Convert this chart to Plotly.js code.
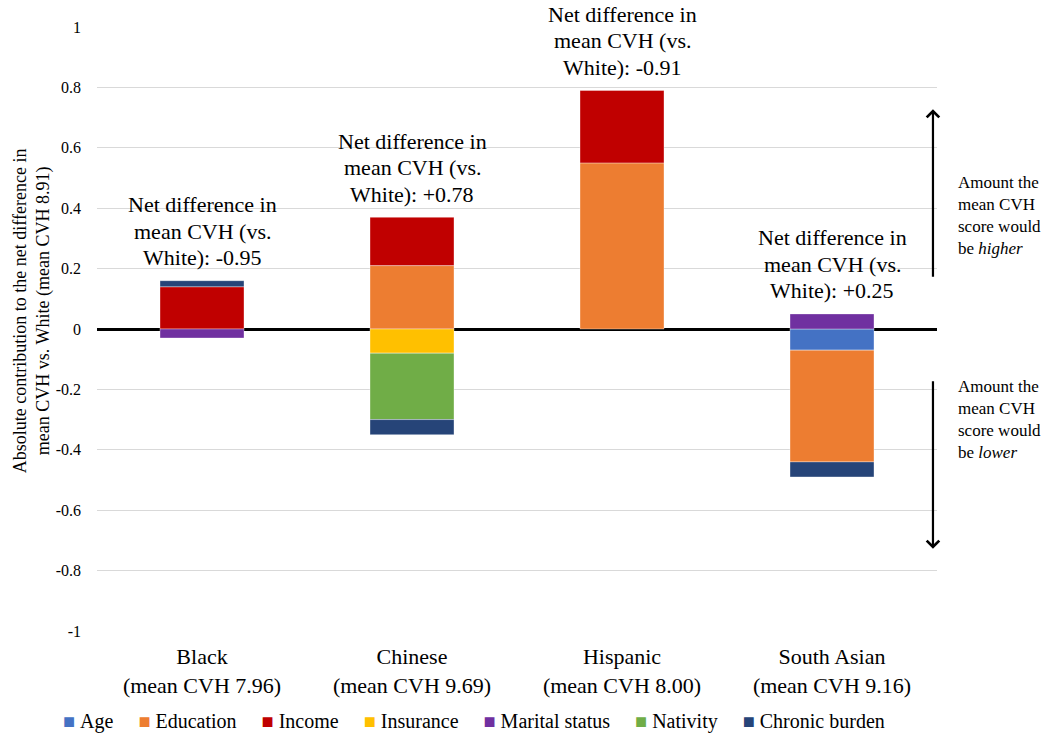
<!DOCTYPE html>
<html>
<head>
<meta charset="utf-8">
<script src="https://cdn.plot.ly/plotly-3.0.1.min.js"></script>
<style>
  html, body { margin: 0; padding: 0; background: #fff; }
  #chart { width: 1051px; height: 735px; }
</style>
</head>
<body>
<div id="chart"></div>
<script>
// Groups compared with White adults (mean CVH 8.91)
const categories = ['Black', 'Chinese', 'Hispanic', 'South Asian'];
const meanCVH = ['7.96', '9.69', '8.00', '9.16'];
const netDiff = ['-0.95', '+0.78', '-0.91', '+0.25'];

// Absolute contribution of each factor (null = no contribution shown)
const age       = [null, null, null, -0.07];
const education = [null, 0.21, 0.55, -0.37];
const income    = [0.14, 0.16, 0.24, null];
const insurance = [null, -0.08, null, null];
const marital   = [-0.03, null, null, 0.05];
const nativity  = [null, -0.22, null, null];
const chronic   = [0.02, -0.05, null, -0.05];

const yTickVals = [-1, -0.8, -0.6, -0.4, -0.2, 0, 0.2, 0.4, 0.6, 0.8, 1];
const yTickText = ['-1', '-0.8', '-0.6', '-0.4', '-0.2', '0', '0.2', '0.4', '0.6', '0.8', '1'];

const serif = 'Liberation Serif';

const factors = [
  { name: 'Age',            values: age,       color: '#4472C4' },
  { name: 'Education',      values: education, color: '#ED7D31' },
  { name: 'Income',         values: income,    color: '#C00000' },
  { name: 'Insurance',      values: insurance, color: '#FFC000' },
  { name: 'Marital status', values: marital,   color: '#7030A0' },
  { name: 'Nativity',       values: nativity,  color: '#70AD47' },
  { name: 'Chronic burden', values: chronic,   color: '#264478' }
];

const traces = factors.map(f => ({
  type: 'bar',
  name: f.name,
  x: categories,
  y: f.values,
  marker: { color: f.color, line: { color: 'rgba(255,255,255,0.45)', width: 0.8 } },
  hoverinfo: 'name+y'
}));

// Top of each positive stack, used to seat the net-difference labels
const stackTops = categories.map((_, i) =>
  factors.reduce((s, f) => s + (f.values[i] > 0 ? f.values[i] : 0), 0));

// Each label is three lines set one above the other with a tight line pitch
const netLabels = [];
categories.forEach((c, i) => {
  const lines = ['Net difference in', 'mean CVH (vs.', 'White): ' + netDiff[i]];
  lines.forEach((txt, k) => {
    netLabels.push({
      x: c, y: stackTops[i], xref: 'x', yref: 'y',
      text: txt, showarrow: false, yanchor: 'middle',
      yshift: 23 + (lines.length - 1 - k) * 26.5,
      font: { family: serif, size: 22, color: '#000' }
    });
  });
});

const sideNotes = [
  { x: 0.9952, y: 0.728, ax: 0, ay: 169 },
  { x: 0.9952, y: -0.728, ax: 0, ay: -169 }
].map(a => ({
  xref: 'paper', yref: 'y', x: a.x, y: a.y, ax: a.ax, ay: a.ay,
  text: '', showarrow: true, arrowhead: 4, arrowsize: 1.1, arrowwidth: 2.2,
  arrowcolor: '#000', standoff: 0, startstandoff: 0
}));

const sideText = [
  { y: 0.377, text: 'Amount the<br>mean CVH<br>score would<br>be <i>higher</i>' },
  { y: -0.30, text: 'Amount the<br>mean CVH<br>score would<br>be <i>lower</i>' }
].map(t => ({
  xref: 'paper', yref: 'y', x: 1.0226, y: t.y, xanchor: 'left', yanchor: 'middle',
  align: 'left', showarrow: false, text: t.text,
  font: { family: serif, size: 17, color: '#000' }
}));

// Plot area spans 27..631 px vertically; the space below it (x labels and
// key) is kept inside the paper via the y-axis domain.
const mTop = 27, mBot = 0, H = 735;
const paperH = H - mTop - mBot;
const yDomainLow = (H - mBot - 631) / paperH;

// Vertical axis title, set as a rotated two-line caption left of the ticks
const yTitle = {
  xref: 'paper', yref: 'paper', x: -0.0774, y: 0.600,
  xanchor: 'center', yanchor: 'middle', textangle: -90, showarrow: false,
  text: 'Absolute contribution to the net difference in<br>mean CVH vs. White (mean CVH 8.91)',
  font: { family: serif, size: 18, color: '#000' }
};

// Compact single-row key: a coloured square before each factor name
const NB = '\u00A0';
const keyText = factors.map(f =>
  '<span style="color:' + f.color + ';font-size:20px">\u25A0</span>' + NB + f.name
).join(NB.repeat(5));
const key = {
  xref: 'paper', yref: 'paper', x: 0.449, y: (H - mBot - 721) / paperH,
  xanchor: 'center', yanchor: 'middle', showarrow: false,
  text: keyText,
  font: { family: serif, size: 20, color: '#000' }
};

const layout = {
  width: 1051, height: H,
  margin: { l: 97, r: 114, t: mTop, b: mBot },
  paper_bgcolor: '#fff', plot_bgcolor: '#fff',
  barmode: 'relative',
  bargap: 0.6,
  showlegend: false,
  font: { family: serif, color: '#000' },
  xaxis: {
    type: 'category',
    tickvals: categories,
    ticktext: categories.map((c, i) => c + '<br>(mean CVH ' + meanCVH[i] + ')'),
    showgrid: false, showline: false, zeroline: false,
    ticks: '', ticklabelstandoff: 10,
    tickfont: { family: serif, size: 22, color: '#000' },
    fixedrange: true
  },
  yaxis: {
    domain: [yDomainLow, 1],
    range: [-1, 1],
    tickvals: yTickVals, ticktext: yTickText,
    showgrid: true, gridcolor: '#d9d9d9', gridwidth: 1,
    zeroline: true, zerolinecolor: '#000', zerolinewidth: 2.5,
    showline: false, ticks: '', ticklabelstandoff: 15,
    tickfont: { family: serif, size: 16, color: '#000' },
    fixedrange: true
  },
  annotations: netLabels.concat(sideNotes, sideText, [yTitle, key])
};

Plotly.newPlot('chart', traces, layout, { displayModeBar: false });
</script>
</body>
</html>
